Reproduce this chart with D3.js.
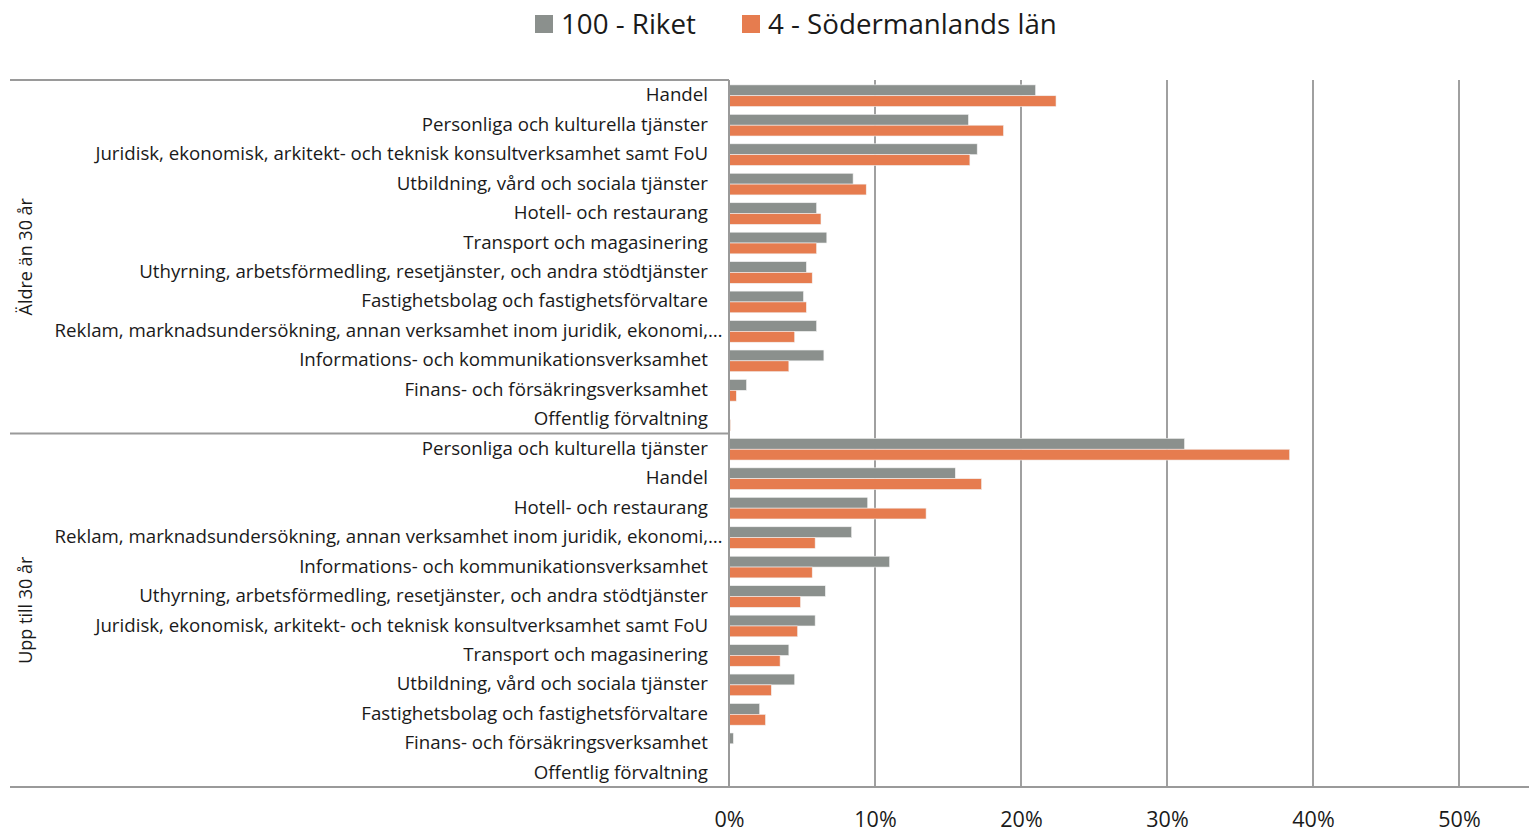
<!DOCTYPE html>
<html>
<head>
<meta charset="utf-8">
<script src="https://cdn.jsdelivr.net/npm/d3@7"></script>
<style>
  body { margin: 0; background: #fff; }
  text { font-family: "Open Sans", sans-serif; fill: #1a1a1a; }
</style>
</head>
<body>
<div id="chart"></div>
<script>
// data, shares of employment
const series = ["100 - Riket", "4 - Södermanlands län"];
const colors = ["#8b908d", "#e67c4f"];
const tickValues = [0, 0.1, 0.2, 0.3, 0.4, 0.5];

const groupOld = "Äldre än 30 år";
const catsOld = [
  "Handel",
  "Personliga och kulturella tjänster",
  "Juridisk, ekonomisk, arkitekt- och teknisk konsultverksamhet samt FoU",
  "Utbildning, vård och sociala tjänster",
  "Hotell- och restaurang",
  "Transport och magasinering",
  "Uthyrning, arbetsförmedling, resetjänster, och andra stödtjänster",
  "Fastighetsbolag och fastighetsförvaltare",
  "Reklam, marknadsundersökning, annan verksamhet inom juridik, ekonomi,…",
  "Informations- och kommunikationsverksamhet",
  "Finans- och försäkringsverksamhet",
  "Offentlig förvaltning"
];
const riketOld = [0.210, 0.164, 0.170, 0.085, 0.060, 0.067, 0.053, 0.051, 0.060, 0.065, 0.012, 0.0005];
const sodOld   = [0.224, 0.188, 0.165, 0.094, 0.063, 0.060, 0.057, 0.053, 0.045, 0.041, 0.005, 0.001];

const groupYoung = "Upp till 30 år";
const catsYoung = [
  "Personliga och kulturella tjänster",
  "Handel",
  "Hotell- och restaurang",
  "Reklam, marknadsundersökning, annan verksamhet inom juridik, ekonomi,…",
  "Informations- och kommunikationsverksamhet",
  "Uthyrning, arbetsförmedling, resetjänster, och andra stödtjänster",
  "Juridisk, ekonomisk, arkitekt- och teknisk konsultverksamhet samt FoU",
  "Transport och magasinering",
  "Utbildning, vård och sociala tjänster",
  "Fastighetsbolag och fastighetsförvaltare",
  "Finans- och försäkringsverksamhet",
  "Offentlig förvaltning"
];
const riketYoung = [0.312, 0.155, 0.095, 0.084, 0.110, 0.066, 0.059, 0.041, 0.045, 0.021, 0.003, 0];
const sodYoung   = [0.384, 0.173, 0.135, 0.059, 0.057, 0.049, 0.047, 0.035, 0.029, 0.025, 0, 0];

const W = 1529, H = 834;
const pLeft = 729, pRight = 1459, pTop = 80, pBottom = 787;

const groups = [
  { name: groupOld, cats: catsOld, vals: [riketOld, sodOld] },
  { name: groupYoung, cats: catsYoung, vals: [riketYoung, sodYoung] }
];

let rows = [];
groups.forEach((g, gi) => {
  g.cats.forEach((c, i) => {
    rows.push({ key: gi + "-" + i, label: c, group: gi, vals: g.vals.map(v => v[i]) });
  });
});

const svg = d3.select("#chart").append("svg")
  .attr("width", W).attr("height", H);

const x = d3.scaleLinear().domain([0, 0.5]).range([pLeft, pRight]);
const y = d3.scaleBand().domain(rows.map(r => r.key)).range([pTop, pBottom]);
const ySub = d3.scaleBand().domain([0, 1]).range([1, y.bandwidth() + 1]).paddingOuter(0.36).paddingInner(0);

// gridlines
svg.append("g").selectAll("line")
  .data(tickValues.slice(1))
  .join("line")
  .attr("x1", d => x(d)).attr("x2", d => x(d))
  .attr("y1", pTop).attr("y2", pBottom)
  .attr("stroke", "#a0a0a0").attr("stroke-width", 2);

// bars
const rowG = svg.append("g").selectAll("g")
  .data(rows)
  .join("g")
  .attr("transform", d => `translate(0,${y(d.key)})`);

rowG.selectAll("rect")
  .data(d => d.vals)
  .join("rect")
  .attr("x", x(0))
  .attr("y", (d, i) => ySub(i))
  .attr("width", d => x(d) - x(0))
  .attr("height", ySub.bandwidth())
  .attr("fill", (d, i) => colors[i])
  .attr("stroke", "#f2f2f2").attr("stroke-width", 0.6);

// category labels
rowG.each(function(d) {
  const g = d3.select(this);
  const ell = d.label.endsWith("…");
  const t = ell ? d.label.slice(0, -1) : d.label;
  g.append("text")
    .attr("x", 708).attr("y", y.bandwidth() / 2)
    .attr("dy", "0.35em")
    .attr("text-anchor", "end")
    .style("font-size", "18.7px")
    .text(t);
  if (ell) {
    g.append("text")
      .attr("x", 708).attr("y", y.bandwidth() / 2)
      .attr("dy", "0.35em")
      .style("font-size", "18.7px")
      .text("…");
  }
});

// axis lines
const axisColor = "#9a9a9a";
svg.append("line")
  .attr("x1", pLeft).attr("x2", pLeft).attr("y1", pTop).attr("y2", pBottom)
  .attr("stroke", axisColor).attr("stroke-width", 2);
[pTop, y("1-0")].forEach(v => {
  svg.append("line")
    .attr("x1", 10).attr("x2", pLeft).attr("y1", v).attr("y2", v)
    .attr("stroke", axisColor).attr("stroke-width", 2);
});
svg.append("line")
  .attr("x1", 10).attr("x2", W).attr("y1", pBottom).attr("y2", pBottom)
  .attr("stroke", axisColor).attr("stroke-width", 2);

// group labels
groups.forEach((g, gi) => {
  const y0 = y(gi + "-0");
  const y1 = y(gi + "-" + (g.cats.length - 1)) + y.bandwidth();
  svg.append("text")
    .attr("transform", `translate(26,${(y0 + y1) / 2}) rotate(-90)`)
    .attr("text-anchor", "middle")
    .attr("dy", "0.35em")
    .style("font-size", "18px")
    .text(g.name);
});

// x axis
const xAxis = svg.append("g")
  .attr("transform", `translate(0,${pBottom})`)
  .call(d3.axisBottom(x).tickValues(tickValues).tickFormat(d3.format(".0%")).tickSize(0).tickPadding(25));
xAxis.select(".domain").remove();
xAxis.selectAll("text")
  .style("font-size", "21.5px")
  .style("font-family", "'Open Sans', sans-serif")
  .attr("fill", "#1a1a1a");

// legend
const legend = svg.append("g");
const legX = [535, 742];
series.forEach((s, i) => {
  legend.append("rect")
    .attr("x", legX[i]).attr("y", 15).attr("width", 18).attr("height", 18)
    .attr("fill", colors[i]);
  legend.append("text")
    .attr("x", legX[i] + 26).attr("y", 24)
    .attr("dy", "0.35em")
    .style("font-size", "27.7px")
    .text(s);
});
</script>
</body>
</html>
